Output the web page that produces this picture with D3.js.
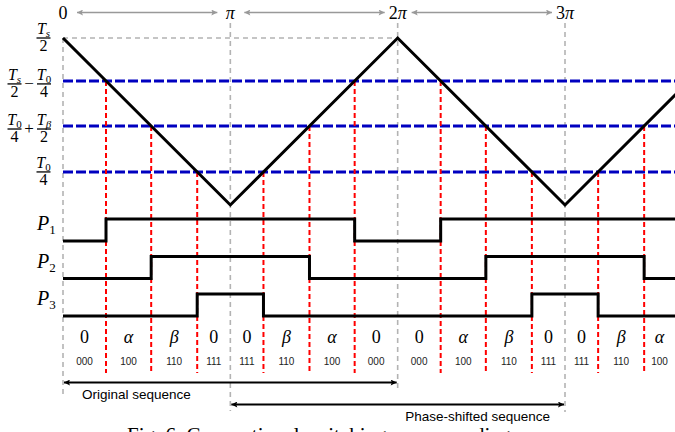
<!DOCTYPE html>
<html>
<head>
<meta charset="utf-8">
<script src="https://cdn.jsdelivr.net/npm/d3@7"></script>
<style>
  body { margin: 0; background: #fff; }
  svg { display: block; }
</style>
</head>
<body>
<div id="chart"></div>
<script>
// triangle carrier corners: phase in units of pi, value relative to Ts/2
const carrierPhase = [0, 1, 2, 3, 4];
const carrierValue = [1, 0, 1, 0, 1];

// comparison levels, top to bottom (Ts/2-T0/4, T0/4+Tb/2, T0/4)
const levelValues = [0.743, 0.473, 0.198];

// y axis labels: value + pieces (fraction = [subscript of T, denominator])
const yLabelValues = [1, 0.743, 0.473, 0.198];
const yLabelParts = [
  [["s", "2"]],
  [["s", "2"], "−", ["0", "4"]],
  [["0", "4"], "+", ["β", "2"]],
  [["0", "4"]]
];

const phaseTicks = [0, 1, 2, 3];
const phaseLabels = ["0", "π", "2π", "3π"];

const pulseNames = ["1", "2", "3"];

const vectorNames = ["0", "α", "β", "0", "0", "β", "α", "0", "0", "α", "β", "0", "0", "β", "α"];
const vectorCodes = ["000", "100", "110", "111", "111", "110", "100", "000", "000", "100", "110", "111", "111", "110", "100"];

const seqNames = ["Original sequence", "Phase-shifted sequence"];
const seqStart = [0, 1];
const seqEnd = [2, 3];

const caption = "Fig. 6. Conventional switching sequence diagram.";

const W = 675, H = 432;
const serif = "'Liberation Serif', 'DejaVu Serif', serif";
const sans = "'Liberation Sans', Arial, sans-serif";

const svg = d3.select("#chart").append("svg")
  .attr("width", W).attr("height", H)
  .style("background", "#fff");

const x = d3.scaleLinear().domain([0, 3]).range([63, 565]);
const y = d3.scaleLinear().domain([0, 1]).range([205, 38]);
const rowLow = d3.scaleLinear().domain([0, 2]).range([241, 316]);  // low level of each pulse row
const pulseAmp = 22;
const redBottom = 373;
const edge = x.invert(W);

const defs = svg.append("defs");
function marker(id, color, w, h) {
  defs.append("marker")
    .attr("id", id)
    .attr("viewBox", "0 0 10 10")
    .attr("refX", 10).attr("refY", 5)
    .attr("markerWidth", w).attr("markerHeight", h)
    .attr("markerUnits", "userSpaceOnUse")
    .attr("orient", "auto-start-reverse")
    .append("path")
    .attr("d", "M0,0 L10,5 L0,10 L2,5 z")
    .attr("fill", color);
}
marker("arrGray", "#999", 8, 6);
marker("arrBlack", "#000", 8, 6);

// where the carrier crosses a level
function crossings(v) {
  let out = [];
  for (let i = 0; i < carrierPhase.length - 1; i++) {
    let a = carrierValue[i], b = carrierValue[i + 1];
    if ((a - v) * (b - v) < 0) {
      let t = (v - a) / (b - a);
      out.push({ p: carrierPhase[i] + t * (carrierPhase[i + 1] - carrierPhase[i]), v: v, up: b > a });
    }
  }
  return out;
}
const allCross = levelValues.map(crossings);

// gray guide lines
const gray = svg.append("g")
  .attr("stroke", "#b3b3b3").attr("stroke-width", 1.6).attr("stroke-dasharray", "5,4").attr("fill", "none");
gray.append("line")
  .attr("x1", x(0)).attr("x2", x(2))
  .attr("y1", y(1)).attr("y2", y(1));
const grayBottom = [397, 411, 390, 412];
gray.selectAll("line.v")
  .data(phaseTicks)
  .join("line")
  .attr("class", "v")
  .attr("x1", d => x(d)).attr("x2", d => x(d))
  .attr("y1", d => d === 0 ? y(1) : 23)
  .attr("y2", (d, i) => grayBottom[i]);

// blue level lines
svg.append("g").selectAll("line")
  .data(levelValues)
  .join("line")
  .attr("x1", x(0)).attr("x2", W)
  .attr("y1", d => y(d)).attr("y2", d => y(d))
  .attr("stroke", "#0000c0").attr("stroke-width", 3).attr("stroke-dasharray", "10,3");

// red drop lines at crossings
svg.append("g").selectAll("line")
  .data(allCross.flat().filter(c => c.p < edge))
  .join("line")
  .attr("x1", d => x(d.p)).attr("x2", d => x(d.p))
  .attr("y1", d => y(d.v)).attr("y2", redBottom)
  .attr("stroke", "#ff0000").attr("stroke-width", 2).attr("stroke-dasharray", "5,3");

// carrier
svg.append("path")
  .datum(d3.zip(carrierPhase, carrierValue))
  .attr("d", d3.line().x(d => x(d[0])).y(d => y(d[1])))
  .attr("fill", "none").attr("stroke", "#000").attr("stroke-width", 3);

// pulses
levelValues.forEach((v, k) => {
  let state = carrierValue[0] < v ? 1 : 0;
  let pts = [[0, state]];
  allCross[k].forEach(c => {
    state = c.up ? 0 : 1;
    pts.push([c.p, state]);
  });
  pts.push([carrierPhase[carrierPhase.length - 1], state]);
  svg.append("path")
    .datum(pts)
    .attr("d", d3.line().curve(d3.curveStepAfter)
      .x(d => x(d[0])).y(d => rowLow(k) - d[1] * pulseAmp))
    .attr("fill", "none").attr("stroke", "#000").attr("stroke-width", 3)
    .attr("stroke-linejoin", "miter");

  let t = svg.append("text")
    .attr("x", 37).attr("y", rowLow(k) - 11)
    .attr("font-family", serif).attr("font-size", 20);
  t.append("tspan").attr("font-style", "italic").text("P");
  t.append("tspan").attr("font-size", 13).attr("dy", 4).text(pulseNames[k]);
});

// y labels (fractions)
function fraction(g, cx, barY, sub, den) {
  let num = g.append("text")
    .attr("x", cx).attr("y", barY - 4)
    .attr("text-anchor", "middle")
    .attr("font-family", serif).attr("font-size", 16);
  num.append("tspan").attr("font-style", "italic").text("T");
  num.append("tspan").attr("font-size", 11).attr("dy", 3)
    .attr("font-style", sub === "0" ? "normal" : "italic").text(sub);
  g.append("line")
    .attr("x1", cx - 7).attr("x2", cx + 7)
    .attr("y1", barY).attr("y2", barY)
    .attr("stroke", "#000").attr("stroke-width", 1.3);
  g.append("text")
    .attr("x", cx).attr("y", barY + 13)
    .attr("text-anchor", "middle")
    .attr("font-family", serif).attr("font-size", 16)
    .text(den);
}
const ylab = svg.append("g");
yLabelValues.forEach((v, i) => {
  let parts = yLabelParts[i];
  let barY = y(v) + (parts.length > 1 ? 3 : 0);
  if (parts.length === 1) {
    fraction(ylab, 43.5, barY, parts[0][0], parts[0][1]);
  } else {
    fraction(ylab, 14.5, barY, parts[0][0], parts[0][1]);
    ylab.append("text")
      .attr("x", 29).attr("y", barY + 5)
      .attr("text-anchor", "middle")
      .attr("font-family", serif).attr("font-size", 17)
      .text(parts[1]);
    fraction(ylab, 44, barY, parts[2][0], parts[2][1]);
  }
});

// phase labels on top
svg.append("g").selectAll("text")
  .data(phaseLabels)
  .join("text")
  .attr("x", (d, i) => x(phaseTicks[i]))
  .attr("y", 19)
  .attr("text-anchor", "middle")
  .attr("font-family", serif).attr("font-size", 18)
  .each(function (d) {
    let t = d3.select(this);
    d.split("").forEach(ch => {
      t.append("tspan").attr("font-style", ch === "π" ? "italic" : "normal").text(ch);
    });
  });

// gray arrows between phase labels
svg.append("g").selectAll("line")
  .data(d3.pairs(phaseTicks))
  .join("line")
  .attr("x1", d => x(d[0]) + 14).attr("x2", d => x(d[1]) - 13)
  .attr("y1", 12.5).attr("y2", 12.5)
  .attr("stroke", "#999").attr("stroke-width", 1.3)
  .attr("marker-start", "url(#arrGray)").attr("marker-end", "url(#arrGray)");

// segment labels
let bounds = [0].concat(allCross.flat().map(c => c.p), phaseTicks, [edge])
  .filter(p => p <= edge);
bounds = Array.from(new Set(bounds.map(p => +p.toFixed(4)))).sort(d3.ascending);
const segs = d3.pairs(bounds).map(b => (b[0] + b[1]) / 2);

svg.append("g").selectAll("text")
  .data(vectorNames)
  .join("text")
  .attr("x", (d, i) => x(segs[i]))
  .attr("y", 343)
  .attr("text-anchor", "middle")
  .attr("font-family", serif).attr("font-size", 18)
  .attr("font-style", d => d === "0" ? "normal" : "italic")
  .text(d => d);

svg.append("g").selectAll("text")
  .data(vectorCodes)
  .join("text")
  .attr("x", (d, i) => x(segs[i]))
  .attr("y", 365)
  .attr("text-anchor", "middle")
  .attr("font-family", sans).attr("font-size", 10)
  .attr("fill", "#222")
  .text(d => d);

// sequence arrows
const seqY = [382.5, 404.5];
seqNames.forEach((name, i) => {
  svg.append("line")
    .attr("x1", x(seqStart[i]) + 1).attr("x2", x(seqEnd[i]) - 1)
    .attr("y1", seqY[i]).attr("y2", seqY[i])
    .attr("stroke", "#000").attr("stroke-width", 1.8)
    .attr("marker-start", "url(#arrBlack)").attr("marker-end", "url(#arrBlack)");
});
svg.append("text")
  .attr("x", x(seqStart[0]) + 19).attr("y", 399)
  .attr("font-family", sans).attr("font-size", 13.5)
  .text(seqNames[0]);
svg.append("text")
  .attr("x", x(seqEnd[1]) - 15).attr("y", 421)
  .attr("text-anchor", "end")
  .attr("font-family", sans).attr("font-size", 13.5)
  .text(seqNames[1]);

// caption, cut off by the bottom edge
svg.append("text")
  .attr("x", 127).attr("y", 442)
  .attr("font-family", serif).attr("font-size", 21)
  .text(caption);
</script>
</body>
</html>
